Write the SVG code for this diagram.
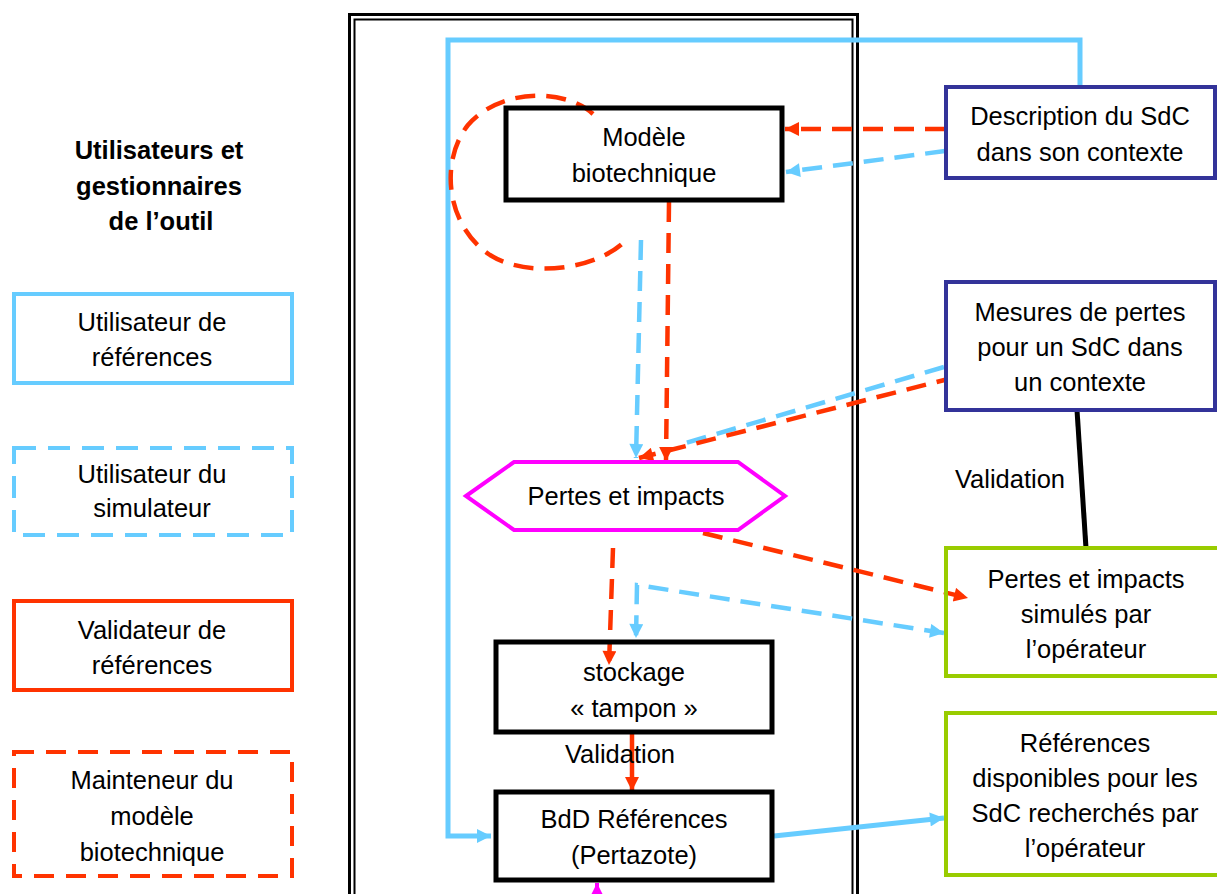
<svg xmlns="http://www.w3.org/2000/svg" width="1217" height="894" viewBox="0 0 1217 894">
<style>
text{font-family:"Liberation Sans",Arial,sans-serif;font-size:25.5px;fill:#000;text-anchor:middle}
.b{font-weight:bold}
.box{fill:#fff;stroke:#000;stroke-width:5}
.ctx{fill:#fff;stroke:#333399;stroke-width:4}
.grn{fill:#fff;stroke:#99cc00;stroke-width:4}
.lb{fill:none;stroke:#66ccff;stroke-width:5}
.lbd{fill:none;stroke:#66ccff;stroke-width:4.5;stroke-dasharray:20 11}
.rd{fill:none;stroke:#ff3300;stroke-width:4.5}
.rdd{fill:none;stroke:#ff3300;stroke-width:4.5;stroke-dasharray:20 11}
</style>
<defs>
<marker id="aB" viewBox="0 0 10 10" refX="10" refY="5" markerWidth="16" markerHeight="14" markerUnits="userSpaceOnUse" orient="auto-start-reverse"><path d="M0,0 L10,5 L0,10 z" fill="#66ccff"/></marker>
<marker id="aR" viewBox="0 0 10 10" refX="10" refY="5" markerWidth="16" markerHeight="14" markerUnits="userSpaceOnUse" orient="auto-start-reverse"><path d="M0,0 L10,5 L0,10 z" fill="#ff3300"/></marker>
<marker id="aM" viewBox="0 0 10 10" refX="10" refY="5" markerWidth="16" markerHeight="14" markerUnits="userSpaceOnUse" orient="auto"><path d="M0,0 L10,5 L0,10 z" fill="#ff00ff"/></marker>
</defs>
<rect width="1217" height="894" fill="#fff"/>

<g id="frame">
<rect x="349.5" y="14.5" width="508" height="900" fill="none" stroke="#000" stroke-width="3"/>
<rect x="354.5" y="19.5" width="498" height="900" fill="none" stroke="#000" stroke-width="2"/>
</g>

<g id="title">
<text class="b" x="159" y="159">Utilisateurs et</text>
<text class="b" x="159" y="195">gestionnaires</text>
<text class="b" x="161" y="230">de l’outil</text>
</g>

<g id="legend-utilisateur-references">
<rect x="14" y="294" width="278" height="89" fill="#fff" stroke="#66ccff" stroke-width="4"/>
<text x="152" y="331">Utilisateur de</text>
<text x="152" y="366">références</text>
</g>
<g id="legend-utilisateur-simulateur">
<rect x="14" y="448" width="278" height="87" fill="#fff" stroke="#66ccff" stroke-width="4" stroke-dasharray="22 12"/>
<text x="152" y="483">Utilisateur du</text>
<text x="152" y="517">simulateur</text>
</g>
<g id="legend-validateur">
<rect x="14" y="601" width="278" height="89" fill="#fff" stroke="#ff3300" stroke-width="4"/>
<text x="152" y="639">Validateur de</text>
<text x="152" y="674">références</text>
</g>
<g id="legend-mainteneur">
<rect x="14" y="752" width="278" height="124" fill="#fff" stroke="#ff3300" stroke-width="4" stroke-dasharray="20 12"/>
<text x="152" y="789">Mainteneur du</text>
<text x="152" y="825">modèle</text>
<text x="152" y="861">biotechnique</text>
</g>

<g id="connectors">
<polyline class="lb" points="1080,87 1080,40 448,40 448,836 491,836" marker-end="url(#aB)"/>
<line class="rdd" x1="945" y1="129" x2="785" y2="129" marker-end="url(#aR)"/>
<line class="lbd" x1="945" y1="151" x2="786" y2="172" marker-end="url(#aB)"/>
<path class="rdd" d="M593,114 C565,88 500,88 468,125 C440,160 445,225 490,255 C530,280 600,268 626,240"/>
<line class="lbd" x1="641" y1="240" x2="636" y2="458" marker-end="url(#aB)"/>
<line class="rdd" x1="669" y1="202" x2="666" y2="461" marker-end="url(#aR)"/>
<line class="lbd" x1="944" y1="367" x2="679" y2="445"/>
<line class="rdd" x1="956" y1="377" x2="639" y2="458" marker-end="url(#aR)"/>
<line class="rdd" x1="703" y1="533" x2="968" y2="598" marker-end="url(#aR)"/>
<polyline class="lbd" points="944,633 637,585 636,638" marker-start="url(#aB)" marker-end="url(#aB)"/>
<line class="rdd" x1="613" y1="548" x2="609" y2="665" marker-end="url(#aR)"/>
<line class="rd" x1="632" y1="734" x2="632" y2="791" marker-end="url(#aR)"/>
<line class="lb" x1="774" y1="836" x2="944" y2="818" marker-end="url(#aB)"/>
<line x1="597" y1="910" x2="597" y2="883" stroke="#ff00ff" stroke-width="4" marker-end="url(#aM)"/>
<line x1="1077" y1="410" x2="1086" y2="548" stroke="#000" stroke-width="5"/>
</g>

<g id="modele">
<rect class="box" x="506" y="108" width="276" height="92" fill-opacity="0"/>
<text x="644" y="146">Modèle</text>
<text x="644" y="182">biotechnique</text>
</g>

<g id="description">
<rect class="ctx" x="946" y="87" width="269" height="91"/>
<text x="1080" y="125">Description du SdC</text>
<text x="1080" y="161">dans son contexte</text>
</g>

<g id="mesures">
<rect class="ctx" x="946" y="282" width="269" height="128"/>
<text x="1080" y="321">Mesures de pertes</text>
<text x="1080" y="356">pour un SdC dans</text>
<text x="1080" y="391">un contexte</text>
</g>

<g id="validation-label">
<text x="1010" y="488">Validation</text>
</g>

<g id="pertes-simules">
<rect class="grn" x="946" y="548" width="300" height="128" fill-opacity="0"/>
<text x="1086" y="588">Pertes et impacts</text>
<text x="1086" y="623">simulés par</text>
<text x="1086" y="658">l’opérateur</text>
</g>

<g id="references-disponibles">
<rect class="grn" x="946" y="713" width="300" height="162"/>
<text x="1085" y="752">Références</text>
<text x="1085" y="787">disponibles pour les</text>
<text x="1085" y="822">SdC recherchés par</text>
<text x="1085" y="857">l’opérateur</text>
</g>

<g id="pertes-impacts">
<polygon points="466,496 514,462 738,462 785,496 738,530 514,530" fill="#fff" stroke="#ff00ff" stroke-width="4"/>
<text x="626" y="505">Pertes et impacts</text>
</g>

<g id="stockage">
<rect class="box" x="496" y="642" width="276" height="90" fill-opacity="0"/>
<text x="634" y="681">stockage</text>
<text x="634" y="717">« tampon »</text>
</g>

<g id="validation-stockage">
<text x="620" y="763">Validation</text>
</g>

<g id="bdd">
<rect class="box" x="496" y="792" width="276" height="88"/>
<text x="634" y="828">BdD Références</text>
<text x="634" y="864">(Pertazote)</text>
</g>
</svg>
